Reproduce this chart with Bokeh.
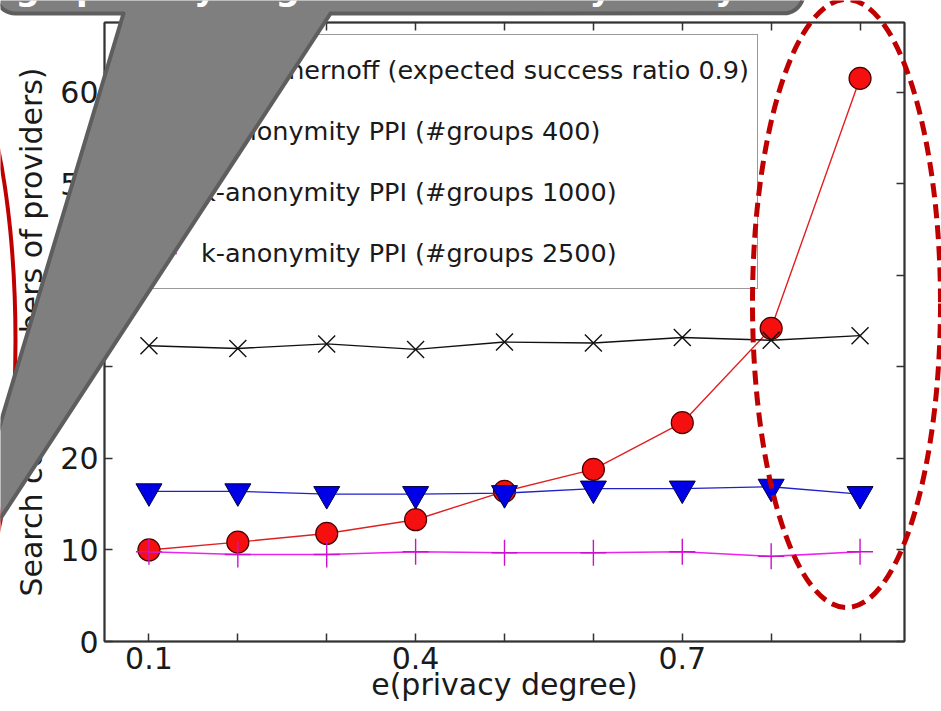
import math
from bokeh.plotting import figure
from bokeh.models import (LinearAxis, FixedTicker, Range1d, Legend, LegendItem)
from bokeh.core.properties import value
from bokeh.embed import file_html
from bokeh.resources import INLINE

# ---------------- data ----------------
privacy_degree = [0.1, 0.2, 0.3, 0.4, 0.5, 0.6, 0.7, 0.8, 0.9]
chernoff = [10.0, 10.85, 11.8, 13.3, 16.4, 18.8, 23.9, 34.2, 61.5]
kanon_400 = [32.3, 32.0, 32.5, 31.9, 32.7, 32.6, 33.2, 32.9, 33.4]
kanon_1000 = [16.4, 16.4, 16.1, 16.1, 16.2, 16.7, 16.7, 16.9, 16.1]
kanon_2500 = [9.8, 9.5, 9.5, 9.8, 9.7, 9.7, 9.8, 9.3, 9.8]

series_labels = [
    "ε-PPI Chernoff (expected success ratio 0.9)",
    "k-anonymity PPI (#groups 400)",
    "k-anonymity PPI (#groups 1000)",
    "k-anonymity PPI (#groups 2500)",
]
x_labeled_ticks = [0.1, 0.4, 0.7]
x_minor_ticks = [0.2, 0.3, 0.5, 0.6, 0.8, 0.9]
y_ticks = [0, 10, 20, 30, 40, 50, 60]
x_label = "e(privacy degree)"
y_label = "Search cost (numbers of providers)"
title_text = "High privacy degree is extremely costly"

FONT = "DejaVu Sans"
AX = "#333333"
W, H = 941, 711

p = figure(width=W, height=H,
           x_range=Range1d(0.05, 0.95), y_range=Range1d(0, 67.6),
           output_backend="svg", toolbar_location=None,
           min_border_left=104, min_border_right=37,
           min_border_top=22, min_border_bottom=70,
           background_fill_color="white", border_fill_color="white")
p.grid.visible = False
p.outline_line_color = AX
p.outline_line_width = 1.5


def style_axis(ax, show_labels=True):
    ax.axis_line_color = AX
    ax.axis_line_width = 2
    ax.major_tick_line_color = AX
    ax.major_tick_line_width = 1.5
    ax.major_tick_in = 8
    ax.major_tick_out = 0
    ax.minor_tick_line_color = AX
    ax.minor_tick_line_width = 1.5
    ax.minor_tick_in = 8
    ax.minor_tick_out = 0
    ax.major_label_text_font = FONT
    if show_labels:
        ax.major_label_text_font_size = "30px"
        ax.major_label_text_color = "#1a1a1a"
    else:
        ax.major_label_text_font_size = "1px"
        ax.major_label_text_color = None
        ax.major_label_standoff = 0


xa = p.xaxis[0]
xa.ticker = FixedTicker(ticks=x_labeled_ticks, minor_ticks=x_minor_ticks)
style_axis(xa)
xa.major_label_standoff = 5
xa.axis_label = x_label
xa.axis_label_text_font = FONT
xa.axis_label_text_font_size = "30px"
xa.axis_label_text_font_style = "normal"
xa.axis_label_text_color = "#1a1a1a"
xa.axis_label_standoff = -5

ya = p.yaxis[0]
ya.ticker = FixedTicker(ticks=y_ticks)
style_axis(ya)
ya.major_label_standoff = 6
ya.axis_label = y_label
ya.axis_label_text_font = FONT
ya.axis_label_text_font_size = "30px"
ya.axis_label_text_font_style = "normal"
ya.axis_label_text_color = "#1a1a1a"
ya.axis_label_standoff = 8

ra = LinearAxis(ticker=FixedTicker(ticks=y_ticks))
style_axis(ra, show_labels=False)
p.add_layout(ra, "right")
ta = LinearAxis(ticker=FixedTicker(ticks=x_labeled_ticks, minor_ticks=x_minor_ticks))
style_axis(ta, show_labels=False)
p.add_layout(ta, "above")

# ---------------- series ----------------
items = []
r1 = p.line(privacy_degree, chernoff, line_color="#e02020", line_width=1.4)
s1 = p.scatter(privacy_degree, chernoff, marker="circle", size=22,
               fill_color="#f50f0f", line_color="#4a0000", line_width=1.2)
items.append(LegendItem(label=series_labels[0], renderers=[r1, s1]))

r2 = p.line(privacy_degree, kanon_400, line_color="#111111", line_width=1.4)
s2 = p.scatter(privacy_degree, kanon_400, marker="x", size=24,
               line_color="#111111", line_width=1.4)
items.append(LegendItem(label=series_labels[1], renderers=[r2, s2]))

r3 = p.line(privacy_degree, kanon_1000, line_color="#2020c8", line_width=1.4)
s3 = p.scatter(privacy_degree, kanon_1000, marker="inverted_triangle", size=26,
               fill_color="#0000e6", line_color="#00003a", line_width=1.0)
items.append(LegendItem(label=series_labels[2], renderers=[r3, s3]))

r4 = p.line(privacy_degree, kanon_2500, line_color="#ee22ee", line_width=1.6)
s4 = p.scatter(privacy_degree, kanon_2500, marker="cross", size=26,
               line_color="#cc11cc", line_width=1.4)
items.append(LegendItem(label=series_labels[3], renderers=[r4, s4]))

legend = Legend(items=items, location="top_left", margin=12,
                padding=8, spacing=7, glyph_width=52, glyph_height=54,
                label_height=54, label_standoff=24,
                label_text_font=FONT, label_text_font_size="25.5px",
                label_text_color="#1a1a1a",
                border_line_color=AX, border_line_width=1.5,
                background_fill_color="white", background_fill_alpha=1.0)
p.add_layout(legend)

# ---------------- slide overlay drawn on a transparent figure placed on top ----------------
ov = figure(frame_width=W, frame_height=H, x_range=Range1d(0, W), y_range=Range1d(H, 0),
            output_backend="svg", toolbar_location=None, title=None,
            x_axis_location=None, y_axis_location=None,
            min_border=0, min_border_left=0, min_border_right=0,
            min_border_top=0, min_border_bottom=0,
            background_fill_color=None, border_fill_color=None)
ov.grid.visible = False
ov.outline_line_color = None
ov.styles = {"position": "absolute", "top": "0px", "left": "0px",
             "pointer-events": "none"}

# solid red ellipse at the far left (mostly outside the picture)
ov.ellipse(x=[-60], y=[340], width=[150], height=[600],
           fill_color=None, line_color="#c00000", line_width=4)

# gray title box + callout wedge
shape = [(-60, -200), (803, -200), (803, -7)]
for i in range(1, 10):
    a = math.radians(9 * i)
    shape.append((783 + 20 * math.cos(a), -7 + 20 * math.sin(a)))
shape += [(330, 13), (-53, 599), (123, 13)]
for i in range(0, 10):
    a = math.radians(90 + 9 * i)
    shape.append((15 + 20 * math.cos(a), -7 + 20 * math.sin(a)))
shape.append((-5, -200))
ov.patch([a for a, b in shape], [b for a, b in shape],
         fill_color="#7f7f7f", fill_alpha=1.0,
         line_color="#5e5e5e", line_width=4, line_join="round")

ov.text(x=[-25], y=[7], text=[title_text], text_color="white",
        text_font=value(FONT), text_font_style="bold", text_font_size="34px",
        text_baseline="bottom", text_align="left")

# dashed red ellipse around the last points
ov.ellipse(x=[846], y=[303], width=[188], height=[608],
           fill_color=None, line_color="#c00000", line_width=5, line_dash="14 7")

open("out.html", "w").write(file_html([p, ov], INLINE))
